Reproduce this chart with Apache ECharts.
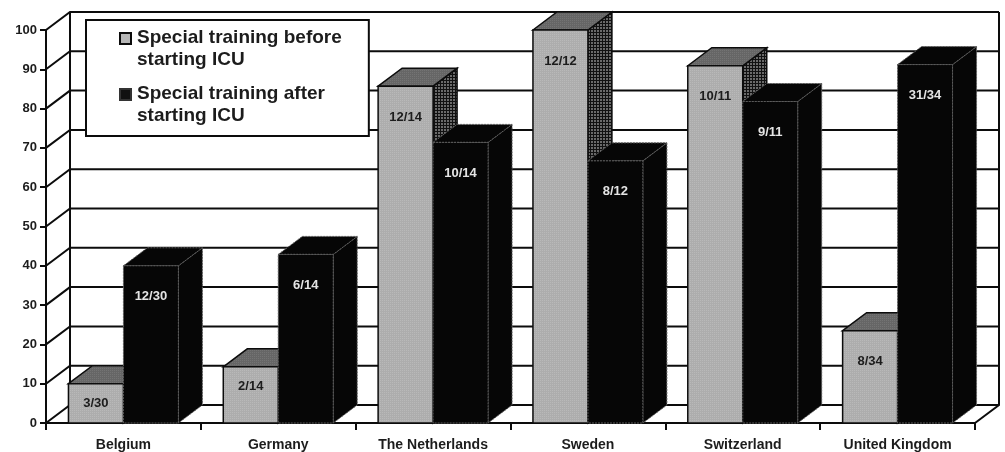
<!DOCTYPE html>
<html>
<head>
<meta charset="utf-8">
<style>
html, body { margin: 0; padding: 0; background: #fff; }
#chart { width: 1005px; height: 452px; }
</style>
<script src="https://cdn.jsdelivr.net/npm/echarts@6/dist/echarts.min.js"></script>
</head>
<body>
<div id="chart"></div>
<script>
var categories = ['Belgium', 'Germany', 'The Netherlands', 'Sweden', 'Switzerland', 'United Kingdom'];
var beforeValues = [10, 14.3, 85.7, 100, 90.9, 23.5];
var afterValues = [40, 42.9, 71.4, 66.7, 81.8, 91.2];
var beforeLabels = ['3/30', '2/14', '12/14', '12/12', '10/11', '8/34'];
var afterLabels = ['12/30', '6/14', '10/14', '8/12', '9/11', '31/34'];
var yTicks = [0, 10, 20, 30, 40, 50, 60, 70, 80, 90, 100];
var beforeName = 'Special training before starting ICU';
var afterName = 'Special training after starting ICU';

var DX = 24, DY = 18; //3D depth in px
var LINE = '#0c0c0c';
var FONT = '"Liberation Sans", Arial, sans-serif';

//small repeating fill: base colour with a lighter dot
function dotPattern(size, base, dot) {
    var c = document.createElement('canvas');
    c.width = size;
    c.height = size;
    var ctx = c.getContext('2d');
    ctx.fillStyle = base;
    ctx.fillRect(0, 0, size, size);
    ctx.fillStyle = dot;
    ctx.fillRect(0, 0, size - 1, size - 1);
    return {image: c, repeat: 'repeat'};
}

//legend swatch sits on the first text line, so the icon is taller than the swatch
function legendIcon(fill, border) {
    var c = document.createElement('canvas');
    c.width = 13;
    c.height = 34;
    var ctx = c.getContext('2d');
    ctx.fillStyle = border;
    ctx.fillRect(0, 0, 13, 13);
    ctx.fillStyle = fill;
    ctx.fillRect(2, 2, 9, 9);
    return 'image://' + c.toDataURL();
}

var sideFill = dotPattern(3, '#111', '#6a6a6a');
var topFill = dotPattern(2, '#666', '#747474');
var frontFill = dotPattern(2, '#adadad', '#b9b9b9');

function barRenderer(labels, dark, offset) {
    return function (params, api) {
        var i = api.value(0);
        var v = api.value(1);
        var top = api.coord([i, v]);
        var base = api.coord([i, 0]);
        var w = api.size([1, 0])[0] * 0.355;
        var x0 = top[0] + offset * w;
        var x1 = x0 + w;
        var y0 = top[1];
        var y1 = base[1];
        var edge = dark
            ? {stroke: '#5c5c5c', lineWidth: 1, lineDash: [2, 1]}
            : {stroke: LINE, lineWidth: 1.5};
        var drop = v < 20 ? 20 : 31;
        return {
            type: 'group',
            children: [
                {
                    type: 'polygon',
                    shape: {points: [[x1, y0], [x1 + DX, y0 - DY], [x1 + DX, y1 - DY], [x1, y1]]},
                    style: Object.assign({fill: dark ? '#060606' : sideFill}, edge)
                },
                {
                    type: 'polygon',
                    shape: {points: [[x0, y0], [x0 + DX, y0 - DY], [x1 + DX, y0 - DY], [x1, y0]]},
                    style: Object.assign({fill: dark ? '#060606' : topFill}, edge)
                },
                {
                    type: 'rect',
                    shape: {x: x0, y: y0, width: w, height: y1 - y0},
                    style: Object.assign({fill: dark ? '#060606' : frontFill}, edge)
                },
                {
                    type: 'text',
                    style: {
                        x: (x0 + x1) / 2,
                        y: y0 + drop,
                        text: labels[i],
                        fill: dark ? '#e4e4e4' : '#1c1c1c',
                        font: 'bold 13px ' + FONT,
                        align: 'center',
                        verticalAlign: 'middle'
                    }
                }
            ]
        };
    };
}

//back wall, left wall and floor
function wallRenderer(params, api) {
    var v = api.value(0);
    var cs = params.coordSys;
    var y = api.coord([0, v])[1];
    var lineStyle = {stroke: LINE, lineWidth: 2, fill: null};
    var children = [{
        type: 'polyline',
        shape: {points: [[cs.x, y], [cs.x + DX, y - DY], [cs.x + cs.width + DX, y - DY]]},
        style: lineStyle
    }];
    if (v === 0) {
        var backTop = cs.y - DY;
        children.push({
            type: 'polyline',
            shape: {points: [[cs.x + DX, y - DY], [cs.x + DX, backTop]]},
            style: lineStyle
        }, {
            type: 'polyline',
            shape: {points: [[cs.x + cs.width, y], [cs.x + cs.width + DX, y - DY], [cs.x + cs.width + DX, backTop]]},
            style: lineStyle
        });
    }
    return {type: 'group', children: children};
}

var myChart = echarts.init(document.getElementById('chart'));
myChart.setOption({
    animation: false,
    backgroundColor: '#fff',
    grid: {left: 46, top: 30, width: 929, height: 393, outerBoundsMode: 'none'},
    legend: {
        left: 86,
        top: 20,
        orient: 'vertical',
        selectedMode: false,
        backgroundColor: '#fff',
        borderColor: LINE,
        borderWidth: 2,
        borderRadius: 0,
        padding: [7, 27, 9, 33],
        itemWidth: 13,
        itemHeight: 34,
        itemGap: 12,
        itemStyle: {borderWidth: 0},
        formatter: function (name) {
            return name.replace(' starting', '\nstarting');
        },
        textStyle: {
            fontFamily: FONT,
            fontWeight: 'bold',
            fontSize: 19,
            color: '#1c1c1c',
            lineHeight: 22
        },
        data: [
            {name: beforeName, icon: legendIcon('#b6b6b6', LINE)},
            {name: afterName, icon: legendIcon('#111', '#333')}
        ]
    },
    xAxis: {
        type: 'category',
        data: categories,
        axisLine: {lineStyle: {color: LINE, width: 2}},
        axisTick: {show: true, length: 7, interval: 0, lineStyle: {color: LINE, width: 2}},
        axisLabel: {
            interval: 0,
            margin: 15,
            fontFamily: FONT,
            fontWeight: 'bold',
            fontSize: 14,
            color: '#1c1c1c'
        }
    },
    yAxis: {
        type: 'value',
        min: 0,
        max: 100,
        interval: 10,
        splitLine: {show: false},
        axisLine: {show: true, lineStyle: {color: LINE, width: 2}},
        axisTick: {show: true, length: 6, lineStyle: {color: LINE, width: 2}},
        axisLabel: {
            margin: 9,
            fontFamily: FONT,
            fontWeight: 'bold',
            fontSize: 13,
            color: '#1c1c1c'
        }
    },
    series: [
        {
            type: 'custom',
            z: 1,
            silent: true,
            renderItem: wallRenderer,
            encode: {y: 0},
            data: yTicks.map(function (t) { return [t]; })
        },
        {
            name: beforeName,
            type: 'custom',
            z: 2,
            renderItem: barRenderer(beforeLabels, false, -1),
            encode: {x: 0, y: 1},
            itemStyle: {color: '#b6b6b6'},
            data: beforeValues.map(function (v, i) { return [i, v]; })
        },
        {
            name: afterName,
            type: 'custom',
            z: 3,
            renderItem: barRenderer(afterLabels, true, 0),
            encode: {x: 0, y: 1},
            itemStyle: {color: '#111'},
            data: afterValues.map(function (v, i) { return [i, v]; })
        }
    ]
});

window.onresize = function () {
    myChart.resize();
};
</script>
</body>
</html>
